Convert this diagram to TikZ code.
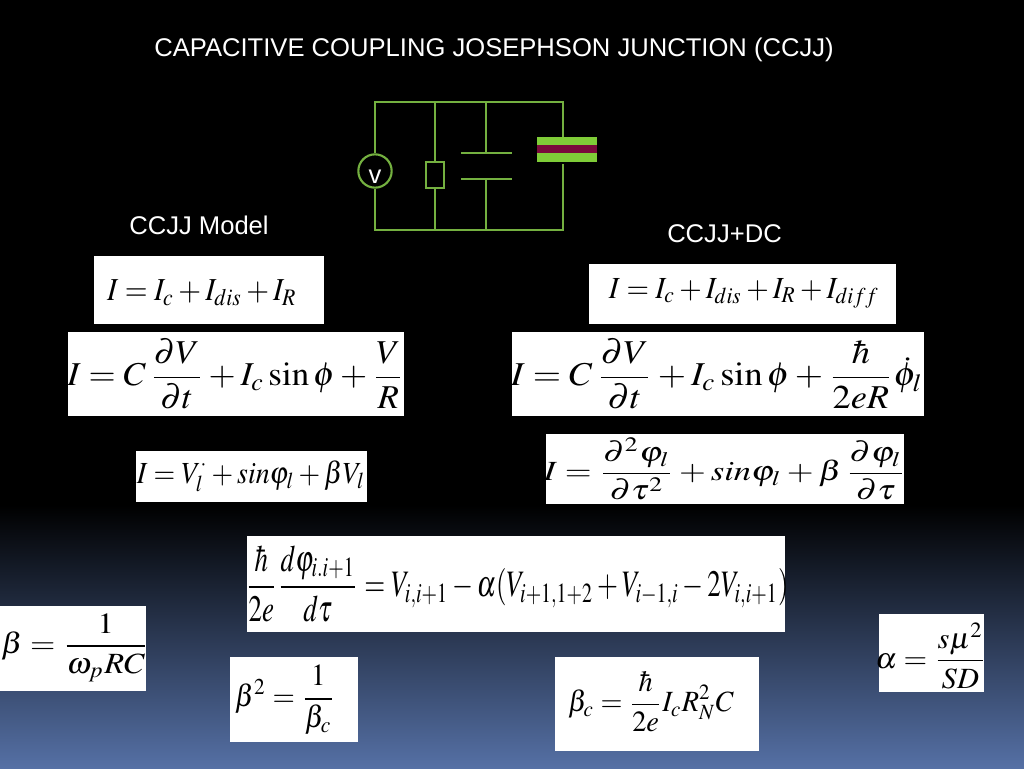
\documentclass[tikz,border=0pt]{standalone}
\usepackage{amsmath}
\usepackage{mathptmx}
\usepackage{fontspec}
\newfontfamily\slidefont{Liberation Sans}
\usetikzlibrary{positioning}
\definecolor{wiregreen}{HTML}{74B040}
\definecolor{plategreen}{HTML}{7FCC38}
\definecolor{barrier}{HTML}{7A0A3C}
\definecolor{slidemid}{HTML}{2C3C5A}
\definecolor{slideblue}{HTML}{5570A5}
\tikzset{
	wire/.style = {wiregreen, line width=1.1pt},
	slidetext/.style = {white, font=\slidefont\fontsize{19.2}{23}\selectfont, inner sep=0pt},
	eqtext/.style = {black, inner sep=0pt, transform shape}
}
\newcommand{\eqnbox}[6]{
   \fill[white] (#2) rectangle (#3);
   \node[eqtext, #5] (#1) at (#4) {$\displaystyle #6$};
}
\begin{document}
\begin{tikzpicture}[x=0.75pt, y=-0.75pt]

		% Background
		\useasboundingbox (0,0) rectangle (1024,768);
		\fill[black] (0,0) rectangle (1024,505);
		\fill[top color=black, middle color=slidemid, bottom color=slideblue] (0,505) rectangle (1024,768);

		% Texts
		\node[slidetext] (title) at (494,49.5) {CAPACITIVE COUPLING JOSEPHSON JUNCTION (CCJJ)};
		\node[slidetext] (modellabel) at (199,225) {CCJJ Model};
		\node[slidetext] (dclabel) at (724.5,234) {CCJJ+DC};

		% Circuit
		\node[wire, draw, circle, line width=1.6pt, minimum size=25pt, inner sep=0pt] (source) at (375,171) {};
		\node[slidetext] (sourcelabel) at (375,177) {v};
		\node[wire, draw, line width=1.4pt, minimum width=13pt, minimum height=19.5pt, inner sep=0pt] (resistor) at (435,175) {};
		\node[fill=plategreen, minimum width=45pt, minimum height=18.75pt, inner sep=0pt] (junction) at (567,149.5) {};
		\node[fill=barrier, minimum width=45pt, minimum height=6pt, inner sep=0pt] (barrierbar) at (567,149) {};
		\coordinate (topleft) at (375,102);
		\coordinate (topres) at (435,102);
		\coordinate (topcap) at (486,102);
		\coordinate (topright) at (563,102);
		\coordinate (botleft) at (375,230);
		\coordinate (botres) at (435,230);
		\coordinate (botcap) at (486,230);
		\coordinate (botright) at (563,230);
		\coordinate (capupper) at (486,153);
		\coordinate (caplower) at (486,179);
		\coordinate (jjupper) at (563,137);
		\coordinate (jjlower) at (563,164);
		\draw[wire] (source) -- (topleft) -- (topright) -- (jjupper);
		\draw[wire] (source) -- (botleft) -- (botright) -- (jjlower);
		\draw[wire] (topres) -- (resistor);
		\draw[wire] (resistor) -- (botres);
		\draw[wire] (topcap) -- (capupper);
		\draw[wire] (botcap) -- (caplower);
		\draw[wire] (461,153) -- (512,153);
		\draw[wire] (461,179) -- (512,179);

		% Left column
		\eqnbox{basemodel}{94,256}{324,324}{202,293}{xscale=2.2,yscale=2.4}{I = I_c + I_{dis} + I_R}
		\eqnbox{fullmodel}{68,332}{404,416}{236,374}{xscale=2.62,yscale=2.5}{I = C\,\frac{\partial V}{\partial t} + I_c \sin\phi + \frac{V}{R}}
		\eqnbox{normmodel}{136,451}{367,502}{251,476}{xscale=2.09,yscale=2.3}{I = V_l^{\cdot} + sin\varphi_l + \beta V_l}

		% Right column
		\eqnbox{basedc}{589,264}{896,324}{744,293}{xscale=2.17,yscale=2.3}{I = I_c + I_{dis} + I_R + I_{diff}}
		\eqnbox{fulldc}{512,332}{924,416}{717,374}{xscale=2.73,yscale=2.5}{I = C\,\frac{\partial V}{\partial t} + I_c \sin\phi + \frac{\hbar}{2eR}\dot{\phi}_l}
		\eqnbox{normdc}{546,434}{904,504}{725,469}{xscale=2.59,yscale=2.08}{I = \frac{\partial^2\varphi_l}{\partial\tau^2} + sin\varphi_l + \beta\,\frac{\partial\varphi_l}{\partial\tau}}

		% Bottom
		\eqnbox{coupling}{247,536}{785,632}{517,584}{xscale=2.02,yscale=2.8}{\frac{\hbar}{2e}\frac{d\varphi_{i.i+1}}{d\tau} = V_{i,i+1} - \alpha(V_{i+1,1+2} + V_{i-1,i} - 2V_{i,i+1})}
		\eqnbox{betadef}{-10,606}{146,691}{75,648}{xscale=2.44,yscale=2.2}{\beta = \frac{1}{\omega_p RC}}
		\eqnbox{betasq}{230,657}{358,742}{285,700}{xscale=2.16,yscale=2.3}{\beta^2 = \frac{1}{\beta_c}}
		\eqnbox{betac}{555,657}{759,751}{651,702}{xscale=2.12,yscale=2.2}{\beta_c = \frac{\hbar}{2e} I_c R_N^2 C}
		\eqnbox{alphadef}{879,614}{984,692}{931,656}{xscale=2.28,yscale=2.2}{\alpha = \frac{s\mu^2}{SD}}
	\end{tikzpicture}
\end{document}
